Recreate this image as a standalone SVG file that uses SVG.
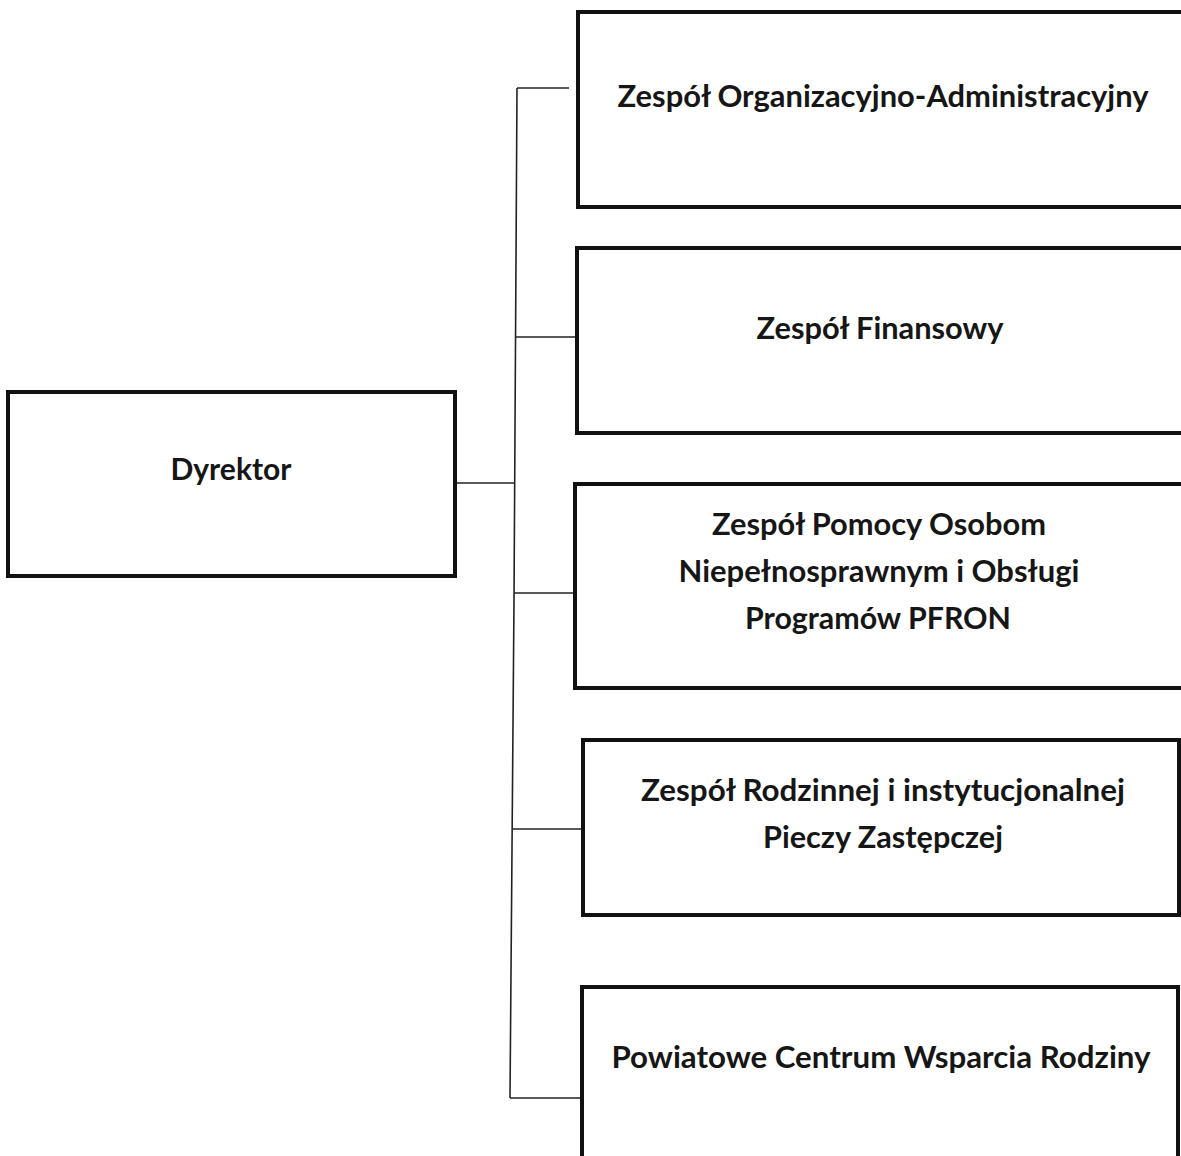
<svg xmlns="http://www.w3.org/2000/svg" width="1181" height="1156" viewBox="0 0 1181 1156">
<style>
.box{fill:#fff;stroke:#111;stroke-width:4}
.lbl{font-family:Lato,"Open Sans","Liberation Sans",sans-serif;font-weight:bold;font-size:30px;fill:#161616;text-anchor:middle}
.con{fill:none;stroke:#222;stroke-width:1.6}
</style>
<rect width="1181" height="1156" fill="#fff"/>
<g id="connectors">
<path class="con" d="M455,483 H514"/>
<path class="con" d="M517,88 L514,600 L510,1098"/>
<path class="con" d="M517,88 H569"/>
<path class="con" d="M516,337 H577"/>
<path class="con" d="M514,593 H575"/>
<path class="con" d="M513,829 H583"/>
<path class="con" d="M510,1098 H582"/>
</g>
<g id="dyrektor">
<rect class="box" x="8" y="392" width="447" height="184"/>
<text class="lbl" x="231" y="480" textLength="121" lengthAdjust="spacingAndGlyphs">Dyrektor</text>
</g>
<g id="zespol-org-adm">
<rect class="box" x="578" y="12" width="620" height="195"/>
<text class="lbl" x="883" y="107" textLength="531" lengthAdjust="spacingAndGlyphs">Zespół Organizacyjno-Administracyjny</text>
</g>
<g id="zespol-finansowy">
<rect class="box" x="577" y="248" width="620" height="185"/>
<text class="lbl" x="880" y="339" textLength="247" lengthAdjust="spacingAndGlyphs">Zespół Finansowy</text>
</g>
<g id="zespol-pfron">
<rect class="box" x="575" y="484" width="620" height="204"/>
<text class="lbl" x="879" y="535" textLength="334" lengthAdjust="spacingAndGlyphs">Zespół Pomocy Osobom</text>
<text class="lbl" x="879" y="582" textLength="401" lengthAdjust="spacingAndGlyphs">Niepełnosprawnym i Obsługi</text>
<text class="lbl" x="878" y="629" textLength="266" lengthAdjust="spacingAndGlyphs">Programów PFRON</text>
</g>
<g id="zespol-piecza">
<rect class="box" x="583" y="740" width="596" height="175"/>
<text class="lbl" x="883" y="801" textLength="484" lengthAdjust="spacingAndGlyphs">Zespół Rodzinnej i instytucjonalnej</text>
<text class="lbl" x="883" y="848" textLength="240" lengthAdjust="spacingAndGlyphs">Pieczy Zastępczej</text>
</g>
<g id="pcwr">
<rect class="box" x="582" y="987" width="596" height="200"/>
<text class="lbl" x="881" y="1068" textLength="539" lengthAdjust="spacingAndGlyphs">Powiatowe Centrum Wsparcia Rodziny</text>
</g>
</svg>
